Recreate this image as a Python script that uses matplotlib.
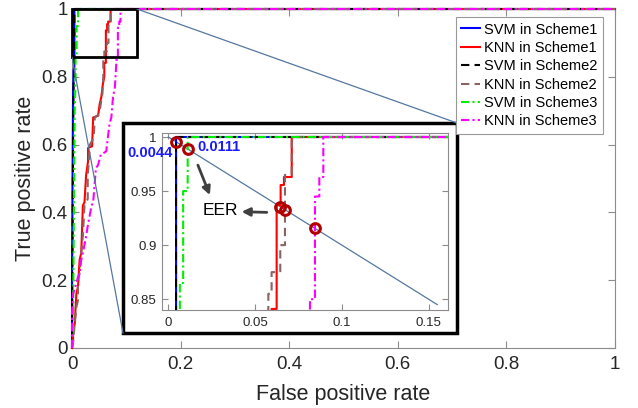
import matplotlib

matplotlib.use("Agg")
import matplotlib.pyplot as plt
from matplotlib.patches import Rectangle

plt.rcParams["font.family"] = ["Liberation Sans", "DejaVu Sans"]

# ROC curves (false positive rate, true positive rate)
fpr_svm1 = [0, 0, 0.001, 0.002, 0.003, 0.0044, 0.0044, 1]
tpr_svm1 = [0, 0.2, 0.5, 0.75, 0.82, 0.83, 1, 1]

fpr_knn1 = [0, 0.002, 0.002, 0.005, 0.008, 0.011, 0.014, 0.017, 0.020, 0.023,
            0.026, 0.0295, 0.0295, 0.037, 0.039, 0.048, 0.051, 0.054, 0.057,
            0.0595, 0.0595, 0.0624, 0.0624, 0.0647, 0.0647, 0.0666, 0.0666,
            0.0711, 0.0711, 1]
tpr_knn1 = [0, 0.02, 0.05, 0.07, 0.16, 0.18, 0.26, 0.28, 0.42, 0.43,
            0.51, 0.55, 0.59, 0.595, 0.68, 0.685, 0.72, 0.74, 0.78,
            0.80, 0.841, 0.841, 0.937, 0.937, 0.9556, 0.9556, 0.963,
            0.963, 1, 1]

fpr_svm2 = [0, 0.001, 0.002, 0.003, 0.0044, 0.0044, 1]
tpr_svm2 = [0, 0.3, 0.6, 0.78, 0.82, 1, 1]

fpr_knn2 = [0, 0.002, 0.005, 0.008, 0.011, 0.011, 0.014, 0.017, 0.020, 0.023,
            0.029, 0.029, 0.031, 0.033, 0.040, 0.042, 0.050, 0.053, 0.056,
            0.0576, 0.0576, 0.0595, 0.0595, 0.0645, 0.0645, 0.0672, 0.0672,
            0.0711, 0.0711, 1]
tpr_knn2 = [0, 0.02, 0.07, 0.12, 0.14, 0.20, 0.22, 0.28, 0.33, 0.42,
            0.44, 0.51, 0.55, 0.60, 0.62, 0.68, 0.69, 0.72, 0.75,
            0.80, 0.855, 0.855, 0.875, 0.875, 0.90, 0.90, 0.965,
            0.965, 1, 1]

fpr_svm3 = [0, 0.002, 0.003, 0.004, 0.005, 0.0066, 0.0066, 0.0085, 0.0085,
            0.0111, 0.0111, 1]
tpr_svm3 = [0, 0.05, 0.3, 0.5, 0.7, 0.8, 0.865, 0.865, 0.95, 0.95, 1, 1]

fpr_knn3 = [0, 0, 0.002, 0.008, 0.011, 0.014, 0.017, 0.020, 0.026, 0.029,
            0.036, 0.039, 0.042, 0.044, 0.048, 0.053, 0.063, 0.069, 0.0724,
            0.0755, 0.079, 0.0816, 0.0816, 0.0845, 0.0845, 0.087, 0.087,
            0.0893, 0.0893, 1]
tpr_knn3 = [0, 0.1, 0.16, 0.19, 0.21, 0.22, 0.26, 0.28, 0.33, 0.36,
            0.42, 0.43, 0.49, 0.53, 0.54, 0.57, 0.58, 0.66, 0.68,
            0.74, 0.77, 0.84, 0.85, 0.85, 0.945, 0.945, 0.963,
            0.963, 1, 1]

labels = ["SVM in Scheme1", "KNN in Scheme1", "SVM in Scheme2",
          "KNN in Scheme2", "SVM in Scheme3", "KNN in Scheme3"]

# equal error rate points and the FPR = 1 - TPR line
eer_fpr = [0.0044, 0.0111, 0.0643, 0.0672, 0.0845]
eer_tpr = [0.9956, 0.9889, 0.9357, 0.9328, 0.9155]
eer_line_x = [0, 0.155]
eer_line_y = [1, 0.845]

ticks_main = [0, 0.2, 0.4, 0.6, 0.8, 1]
tick_labels_main = ["0", "0.2", "0.4", "0.6", "0.8", "1"]
ticks_in_x = [0, 0.05, 0.1, 0.15]
tick_labels_in_x = ["0", "0.05", "0.1", "0.15"]
ticks_in_y = [0.85, 0.9, 0.95, 1]
tick_labels_in_y = ["0.85", "0.9", "0.95", "1"]

curves = [
    (fpr_svm1, tpr_svm1, dict(color="#0000ff", ls="-")),
    (fpr_knn1, tpr_knn1, dict(color="#ff0000", ls="-")),
    (fpr_svm2, tpr_svm2, dict(color="black", ls=(0, (4, 2.5)))),
    (fpr_knn2, tpr_knn2, dict(color="#8c6262", ls=(0, (4, 2.5)))),
    (fpr_svm3, tpr_svm3, dict(color="#00ee00", ls=(0, (4, 1.5, 1, 1.5)))),
    (fpr_knn3, tpr_knn3, dict(color="#ff00ff", ls=(0, (4, 1.5, 1, 1.5)))),
]

TXT = "#262626"
SPINE = "#8c8c8c"
CONN = "#5577a0"

fig = plt.figure(figsize=(6.38, 4.08), dpi=100)
ax = fig.add_axes([72 / 638, 60 / 408, 543 / 638, 339 / 408])

for (x, y, st), lab in zip(curves, labels):
    ax.plot(x, y, lw=1.5, label=lab, clip_on=False, zorder=3, **st)

ax.set_xlim(0, 1)
ax.set_ylim(0, 1)
ax.set_xticks(ticks_main, tick_labels_main)
ax.set_yticks(ticks_main, tick_labels_main)
ax.tick_params(direction="in", length=5, width=0.8, colors=SPINE,
               labelcolor=TXT, labelsize=13.5, top=True, right=True)
ax.tick_params(axis="x", pad=6)
ax.tick_params(axis="y", pad=3)
for s in ax.spines.values():
    s.set_color(SPINE)
    s.set_linewidth(0.8)
ax.set_xlabel("False positive rate", fontsize=15.5, color=TXT, labelpad=8)
ax.set_ylabel("True positive rate", fontsize=15.5, color=TXT, labelpad=4)

leg = ax.legend(loc="upper right", bbox_to_anchor=(0.977, 0.975),
                fontsize=10.5, handlelength=1.3, handletextpad=0.3,
                labelspacing=0.3, borderpad=0.35, fancybox=False,
                framealpha=1, borderaxespad=0)
leg.get_frame().set_edgecolor("#999999")
leg.get_frame().set_linewidth(0.8)
leg.set_zorder(9)
for t in leg.get_texts():
    t.set_color("black")

# zoom rectangle, inset frame and connectors (main-axes data coords)
ax.add_patch(Rectangle((0, 0.8575), 0.1197, 0.1425, fill=False,
                       ec="black", lw=2, zorder=6, clip_on=False))
ax.add_patch(Rectangle((0.0939, 0.0442), 0.6151, 0.6195, fc="white",
                       ec="black", lw=2.5, zorder=7, clip_on=False))
ax.plot([0.1197, 0.709], [1.0, 0.6637], color=CONN, lw=0.9, zorder=8)
ax.plot([0, 0.0939], [0.8575, 0.0442], color=CONN, lw=0.9, zorder=8)

# inset
axi = fig.add_axes([162 / 638, 98 / 408, 286 / 638, 177 / 408], zorder=10)
axi.plot(eer_line_x, eer_line_y, color=CONN, lw=0.9)
for (x, y, st), lab in zip(curves, labels):
    axi.plot(x, y, lw=1.5, **st)
axi.plot(eer_fpr, eer_tpr, ls="none", marker="o", ms=7, mfc="none",
         mec="#b00000", mew=2.2, zorder=5)
axi.set_xlim(-0.0037, 0.1612)
axi.set_ylim(0.84, 1.0037)
axi.set_xticks(ticks_in_x, tick_labels_in_x)
axi.set_yticks(ticks_in_y, tick_labels_in_y)
axi.tick_params(direction="in", length=4, width=0.8, colors=SPINE,
                labelcolor=TXT, labelsize=9.5, top=True, right=True)
axi.tick_params(axis="x", pad=5)
axi.tick_params(axis="y", pad=4)
for s in axi.spines.values():
    s.set_color(SPINE)
    s.set_linewidth(0.8)

axi.text(-0.0107, 0.985, "0.0044", color="#1a1aff", fontsize=10.5,
         fontweight="bold", ha="center", va="center", zorder=12)
axi.text(0.0294, 0.9907, "0.0111", color="#1a1aff", fontsize=10.5,
         fontweight="bold", ha="center", va="center", zorder=12)
axi.text(0.0301, 0.9324, "EER", color="black", fontsize=12.5,
         ha="center", va="center", zorder=12)
arrow = dict(arrowstyle="-|>", color="#404040", lw=2, mutation_scale=12,
             shrinkA=0, shrinkB=0)
axi.annotate("", xy=(0.0239, 0.9463), xytext=(0.017, 0.974),
             arrowprops=arrow)
axi.annotate("", xy=(0.0422, 0.9309), xytext=(0.0567, 0.9303),
             arrowprops=arrow)

fig.savefig("out.png", dpi=100)
